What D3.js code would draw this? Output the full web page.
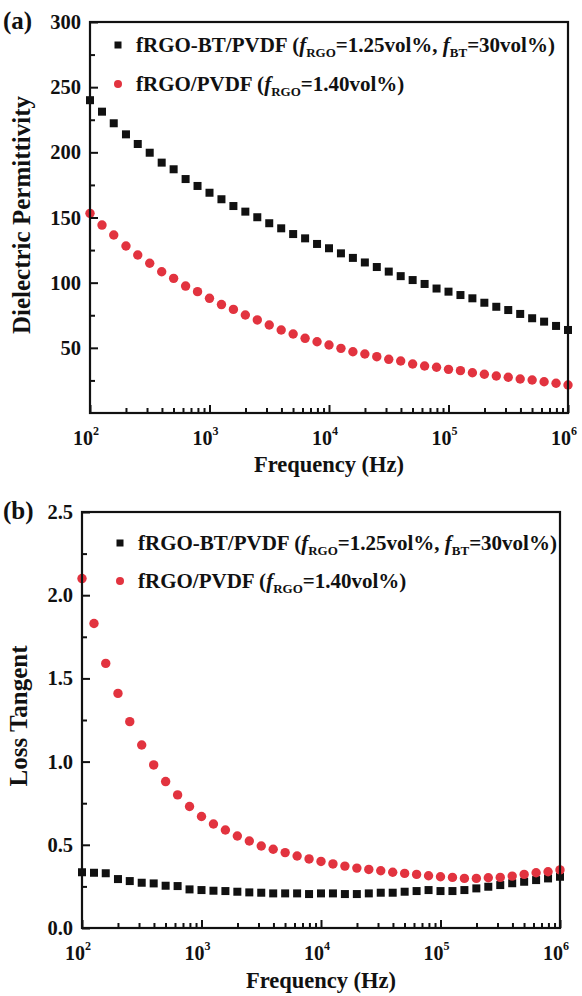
<!DOCTYPE html>
<html>
<head>
<meta charset="utf-8">
<script src="https://cdn.jsdelivr.net/npm/d3@7"></script>
<style>
  html, body { margin: 0; padding: 0; background: #fff; }
  svg { display: block; }
  text { font-family: "Liberation Serif", "Times New Roman", serif; font-weight: bold; fill: #111; }
</style>
</head>
<body>
<svg id="chart" width="582" height="996"></svg>
<script>
// Frequency sweep (Hz), 10 points per decade
const frequency = [
  100, 126, 158, 200, 251, 316, 398, 501, 631, 794,
  1000, 1259, 1585, 1995, 2512, 3162, 3981, 5012, 6310, 7943,
  10000, 12589, 15849, 19953, 25119, 31623, 39811, 50119, 63096, 79433,
  100000, 125893, 158489, 199526, 251189, 316228, 398107, 501187, 630957, 794328,
  1000000
];

// (a) dielectric permittivity
const permBT = [
  240, 231.2, 222.3, 213.8, 206.4, 199.7, 192.1, 187.0, 179.5, 174.2,
  169.0, 164.0, 158.8, 154.5, 150.2, 145.6, 141.7, 137.3, 134.0, 129.7,
  126.4, 122.5, 119.0, 115.5, 112.0, 108.5, 105.0, 102.0, 99.0, 95.5,
  93.1, 90.5, 88.0, 84.6, 81.5, 79.0, 76.0, 72.7, 70.1, 66.8,
  63.7
];
const permRGO = [
  153.2, 144.2, 136.6, 128.1, 121.2, 114.9, 108.4, 103.3, 97.4, 93.1,
  88.0, 83.2, 79.5, 75.2, 71.4, 67.5, 63.7, 60.6, 57.3, 54.7,
  52.2, 49.6, 47.0, 45.3, 43.2, 41.2, 39.9, 37.6, 36.1, 35.1,
  33.5, 32.5, 30.9, 29.7, 28.4, 27.4, 26.1, 25.3, 24.0, 22.8,
  21.5
];

// (b) loss tangent
const lossBT = [
  0.335, 0.332, 0.329, 0.294, 0.282, 0.272, 0.268, 0.254, 0.252, 0.232,
  0.228, 0.224, 0.222, 0.218, 0.214, 0.212, 0.208, 0.208, 0.208, 0.204,
  0.208, 0.208, 0.204, 0.204, 0.208, 0.212, 0.212, 0.218, 0.222, 0.228,
  0.222, 0.222, 0.228, 0.238, 0.248, 0.258, 0.269, 0.278, 0.288, 0.298,
  0.308
];
const lossRGO = [
  2.10, 1.83, 1.59, 1.41, 1.24, 1.10, 0.98, 0.88, 0.80, 0.73,
  0.67, 0.625, 0.589, 0.553, 0.523, 0.493, 0.473, 0.453, 0.433, 0.415,
  0.400, 0.385, 0.372, 0.360, 0.352, 0.344, 0.335, 0.328, 0.322, 0.314,
  0.308, 0.304, 0.298, 0.298, 0.302, 0.304, 0.312, 0.322, 0.332, 0.338,
  0.349
];

// Axis ticks
const xMajor = [1e2, 1e3, 1e4, 1e5, 1e6];
const xExponents = ["2", "3", "4", "5", "6"];
const permTicks = [50, 100, 150, 200, 250, 300];
const permMinor = [25, 75, 125, 175, 225, 275];
const lossTicks = [0.0, 0.5, 1.0, 1.5, 2.0, 2.5];
const lossMinor = [0.25, 0.75, 1.25, 1.75, 2.25];

const BLACK = "#111111";
const RED = "#e2333f";

const svg = d3.select("#chart");

function xMinorValues() {
  const out = [];
  for (let e = 2; e < 6; e++) for (let m = 2; m <= 9; m++) out.push(m * Math.pow(10, e));
  return out;
}

function legend(g, x0, y0, gap) {
  const rows = [
    { kind: "square", parts: [["fRGO-BT/PVDF (", ""], ["f", "i"], ["RGO", "s"], ["=1.25vol%, ", ""], ["f", "i"], ["BT", "s"], ["=30vol%)", ""]] },
    { kind: "circle", parts: [["fRGO/PVDF (", ""], ["f", "i"], ["RGO", "s"], ["=1.40vol%)", ""]] }
  ];
  rows.forEach((r, i) => {
    const cy = y0 + i * gap;
    if (r.kind === "square") {
      g.append("rect").attr("x", x0 - 3.5).attr("y", cy - 3.5).attr("width", 7).attr("height", 7).attr("fill", BLACK);
    } else {
      g.append("circle").attr("cx", x0).attr("cy", cy).attr("r", 4).attr("fill", RED);
    }
    const t = g.append("text").attr("x", x0 + 18).attr("y", cy + 7).style("font-size", "21px");
    let sub = false;
    r.parts.forEach(([s, k]) => {
      const ts = t.append("tspan").text(s);
      if (k === "i") ts.style("font-style", "italic");
      if (k === "s") { ts.style("font-size", "13px").attr("dy", 5); sub = true; }
      else if (sub) { ts.attr("dy", -5); sub = false; }
    });
  });
}

function panel(opt) {
  const { left, top, right, bottom } = opt;
  const g = svg.append("g");
  const x = d3.scaleLog().domain([1e2, 1e6]).range([left, right]);
  const y = d3.scaleLinear().domain(opt.yDomain).range([bottom, top]);

  // markers
  g.append("g").selectAll("rect").data(opt.sq).join("rect")
    .attr("x", (d, i) => x(frequency[i]) - 4)
    .attr("y", d => y(d) - 4)
    .attr("width", 8).attr("height", 8)
    .attr("fill", BLACK);
  g.append("g").selectAll("circle").data(opt.ci).join("circle")
    .attr("cx", (d, i) => x(frequency[i]))
    .attr("cy", d => y(d))
    .attr("r", 4.7)
    .attr("fill", RED);

  // x axis: inward ticks
  const xa = g.append("g").attr("transform", `translate(0,${bottom})`);
  xa.call(d3.axisBottom(x).tickValues(xMajor).tickSize(-8).tickFormat(""));
  xa.append("g").call(d3.axisBottom(x).tickValues(xMinorValues()).tickSize(-5).tickFormat(""));
  xa.selectAll("path.domain").remove();
  xa.selectAll("line").attr("stroke", BLACK).attr("stroke-width", 2);

  // x tick labels with superscript exponent
  const lab = g.append("g").selectAll("text").data(xMajor).join("text")
    .attr("x", d => x(d) - 4)
    .attr("y", bottom + 32)
    .attr("text-anchor", "middle")
    .style("font-size", "20px");
  lab.append("tspan").text("10");
  lab.append("tspan").text((d, i) => xExponents[i]).style("font-size", "12px").attr("dy", -10);

  // y axis: inward ticks, labels outside
  const ya = g.append("g").attr("transform", `translate(${left},0)`);
  ya.call(d3.axisLeft(y).tickValues(opt.yTicks).tickSize(-8).tickPadding(opt.pad).tickFormat(opt.fmt));
  ya.append("g").call(d3.axisLeft(y).tickValues(opt.yMinor).tickSize(-5).tickFormat(""));
  ya.selectAll("path.domain").remove();
  ya.selectAll("line").attr("stroke", BLACK).attr("stroke-width", 2);
  ya.selectAll("text").style("font-size", "20.5px").style("font-family", "'Liberation Serif', serif").style("font-weight", "bold").attr("fill", BLACK);

  // frame
  g.append("rect").attr("x", left).attr("y", top)
    .attr("width", right - left).attr("height", bottom - top)
    .attr("fill", "none").attr("stroke", BLACK).attr("stroke-width", 2.2);

  // titles
  g.append("text").attr("x", (left + right) / 2).attr("y", bottom + opt.xTitleDy)
    .attr("text-anchor", "middle").style("font-size", "22.5px").text("Frequency (Hz)");
  g.append("text").attr("transform", `translate(${opt.yTitleX},${opt.yTitleY}) rotate(-90)`)
    .attr("text-anchor", "middle").style("font-size", "25px").text(opt.yTitle);
  g.append("text").attr("x", 3).attr("y", top + 7).style("font-size", "25px").text(opt.tag);

  legend(g, opt.legX, opt.legY, opt.legGap);
}

panel({
  left: 90, right: 568, top: 22, bottom: 413,
  yDomain: [0, 300], yTicks: permTicks, yMinor: permMinor, pad: 9,
  fmt: d3.format("d"),
  sq: permBT, ci: permRGO,
  yTitle: "Dielectric Permittivity", yTitleX: 30, yTitleY: 215,
  xTitleDy: 59,
  tag: "(a)", legX: 118, legY: 45, legGap: 39
});

panel({
  left: 82, right: 560, top: 512, bottom: 928,
  yDomain: [0, 2.5], yTicks: lossTicks, yMinor: lossMinor, pad: 9,
  fmt: d3.format(".1f"),
  sq: lossBT, ci: lossRGO,
  yTitle: "Loss Tangent", yTitleX: 27, yTitleY: 716,
  xTitleDy: 60,
  tag: "(b)", legX: 120, legY: 543, legGap: 38
});
</script>
</body>
</html>
